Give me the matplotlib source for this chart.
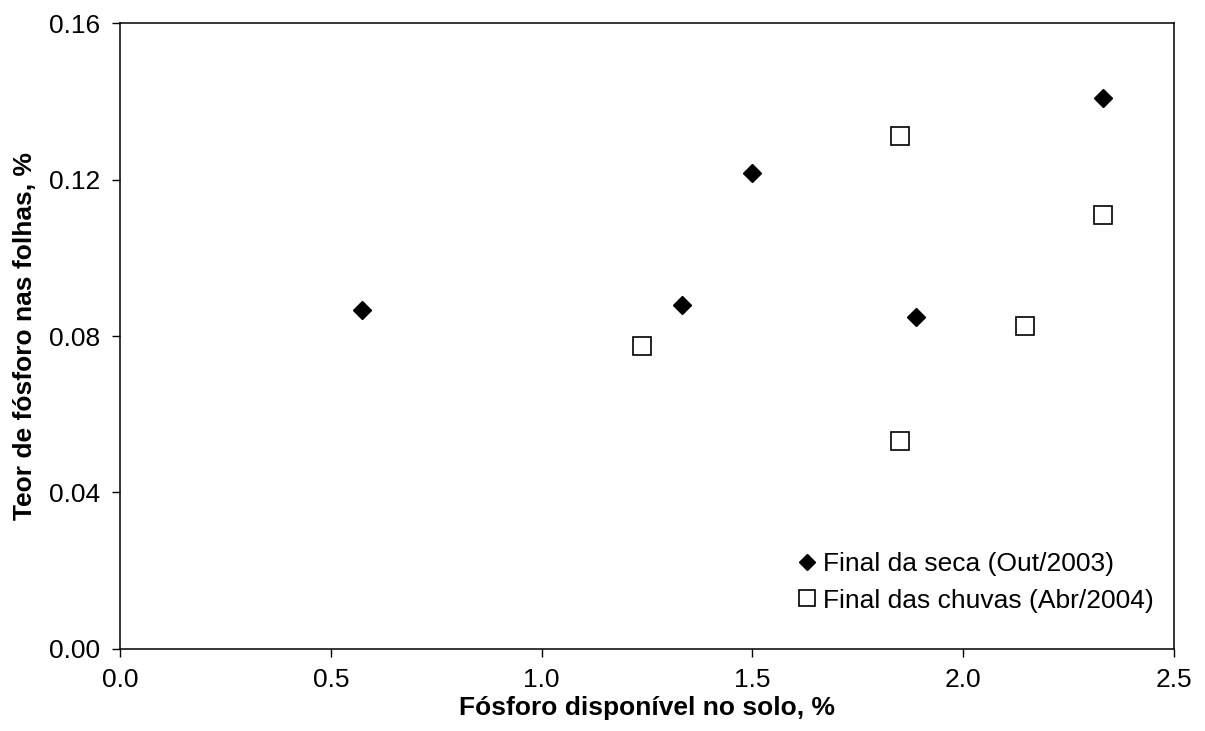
import matplotlib.pyplot as plt

plt.rcParams['font.family'] = ['Liberation Sans', 'DejaVu Sans']

# Final da seca (Out/2003)
seca_x = [0.573, 1.334, 1.499, 1.887, 2.331]
seca_y = [0.0867, 0.0879, 0.1216, 0.0848, 0.1408]

# Final das chuvas (Abr/2004)
chuva_x = [1.239, 1.850, 1.850, 2.147, 2.331]
chuva_y = [0.0775, 0.1310, 0.0532, 0.0826, 0.1109]

xticks = [0.0, 0.5, 1.0, 1.5, 2.0, 2.5]
yticks = [0.00, 0.04, 0.08, 0.12, 0.16]

fig = plt.figure(figsize=(12.05, 7.31), dpi=100)
ax = fig.add_axes([0.0996, 0.1122, 0.8747, 0.8563])

ax.plot(seca_x, seca_y, 'D', color='black', ms=9, ls='none',
        label='Final da seca (Out/2003)')
ax.plot(chuva_x, chuva_y, 's', mfc='white', mec='black', mew=1.2, ms=13, ls='none',
        label='Final das chuvas (Abr/2004)')

ax.set_xlim(0, 2.5)
ax.set_ylim(0, 0.16)
ax.set_xticks(xticks)
ax.set_xticklabels(['%.1f' % v for v in xticks])
ax.set_yticks(yticks)
ax.set_yticklabels(['%.2f' % v for v in yticks])
ax.tick_params(direction='out', length=6, width=1, labelsize=19, pad=8)
for s in ax.spines.values():
    s.set_linewidth(1.1)

ax.set_xlabel('Fósforo disponível no solo, %', fontsize=19, fontweight='bold')
ax.set_ylabel('Teor de fósforo nas folhas, %', fontsize=19, fontweight='bold')
ax.xaxis.set_label_coords(0.5, -0.075)
ax.yaxis.set_label_coords(-0.079, 0.5)

leg = ax.legend(loc='lower left', bbox_to_anchor=(0.629, 0.037), frameon=False,
                fontsize=19, handlelength=0.8, handletextpad=0.2, borderpad=0,
                labelspacing=0.47, markerscale=0.9)

plt.savefig('out.png', dpi=100)
